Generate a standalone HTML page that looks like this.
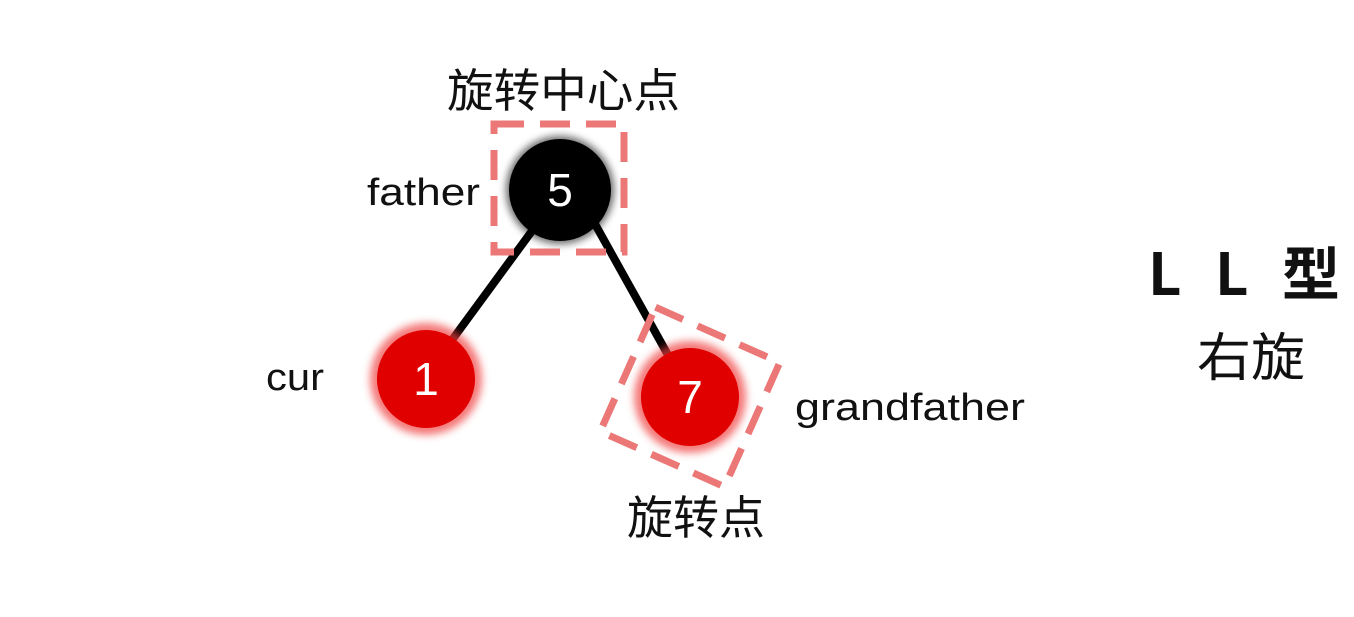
<!DOCTYPE html>
<html><head><meta charset="utf-8"><style>
body{margin:0;background:#fff;width:1354px;height:612px;overflow:hidden}
</style></head><body>
<svg width="1354" height="612" xmlns="http://www.w3.org/2000/svg" font-family="Liberation Sans, Noto Sans CJK SC, sans-serif">
<defs>
<filter id="g" x="-50%" y="-50%" width="200%" height="200%"><feGaussianBlur stdDeviation="4"/></filter>
</defs>
<line x1="452" y1="340" x2="540" y2="220" stroke="#000" stroke-width="8"/>
<line x1="590" y1="215" x2="668" y2="355" stroke="#000" stroke-width="8"/>
<circle cx="560" cy="190" r="54" fill="#000" filter="url(#g)" opacity="0.6"/>
<circle cx="560" cy="190" r="51" fill="#000"/>
<circle cx="426" cy="379" r="56" fill="#f04040" filter="url(#g)" opacity="0.7"/>
<circle cx="426" cy="379" r="49" fill="#e00000"/>
<circle cx="690" cy="397" r="56" fill="#f04040" filter="url(#g)" opacity="0.7"/>
<circle cx="690" cy="397" r="49" fill="#e00000"/>
<rect x="494" y="124" width="130" height="128" fill="none" stroke="#ec7777" stroke-width="7" stroke-dasharray="30,16"/>
<rect x="622" y="329" width="136" height="136" fill="none" stroke="#ec7777" stroke-width="7" stroke-dasharray="30,16" transform="rotate(24 690 397)"/>
<g fill="#fff" font-size="46" text-anchor="middle">
<text x="560" y="206">5</text><text x="426" y="395">1</text><text x="690" y="413">7</text>
</g>
<g fill="#111">
<text x="447" y="107" font-size="46" textLength="233" lengthAdjust="spacingAndGlyphs" font-family="Noto Sans CJK SC, sans-serif">旋转中心点</text>
<text x="367" y="205" font-size="38" textLength="113" lengthAdjust="spacingAndGlyphs">father</text>
<text x="266" y="390" font-size="38" textLength="58" lengthAdjust="spacingAndGlyphs">cur</text>
<text x="795" y="420" font-size="38" textLength="230" lengthAdjust="spacingAndGlyphs">grandfather</text>
<text x="627" y="534" font-size="46" textLength="138" lengthAdjust="spacingAndGlyphs" font-family="Noto Sans CJK SC, sans-serif">旋转点</text>
<text x="1148" y="295" font-size="58" font-weight="bold" textLength="192" lengthAdjust="spacing" font-family="Noto Sans CJK SC, sans-serif">L L 型</text>
<text x="1197" y="376" font-size="52" textLength="108" lengthAdjust="spacingAndGlyphs" font-family="Noto Sans CJK SC, sans-serif">右旋</text>
</g>
</svg>
</body></html>
